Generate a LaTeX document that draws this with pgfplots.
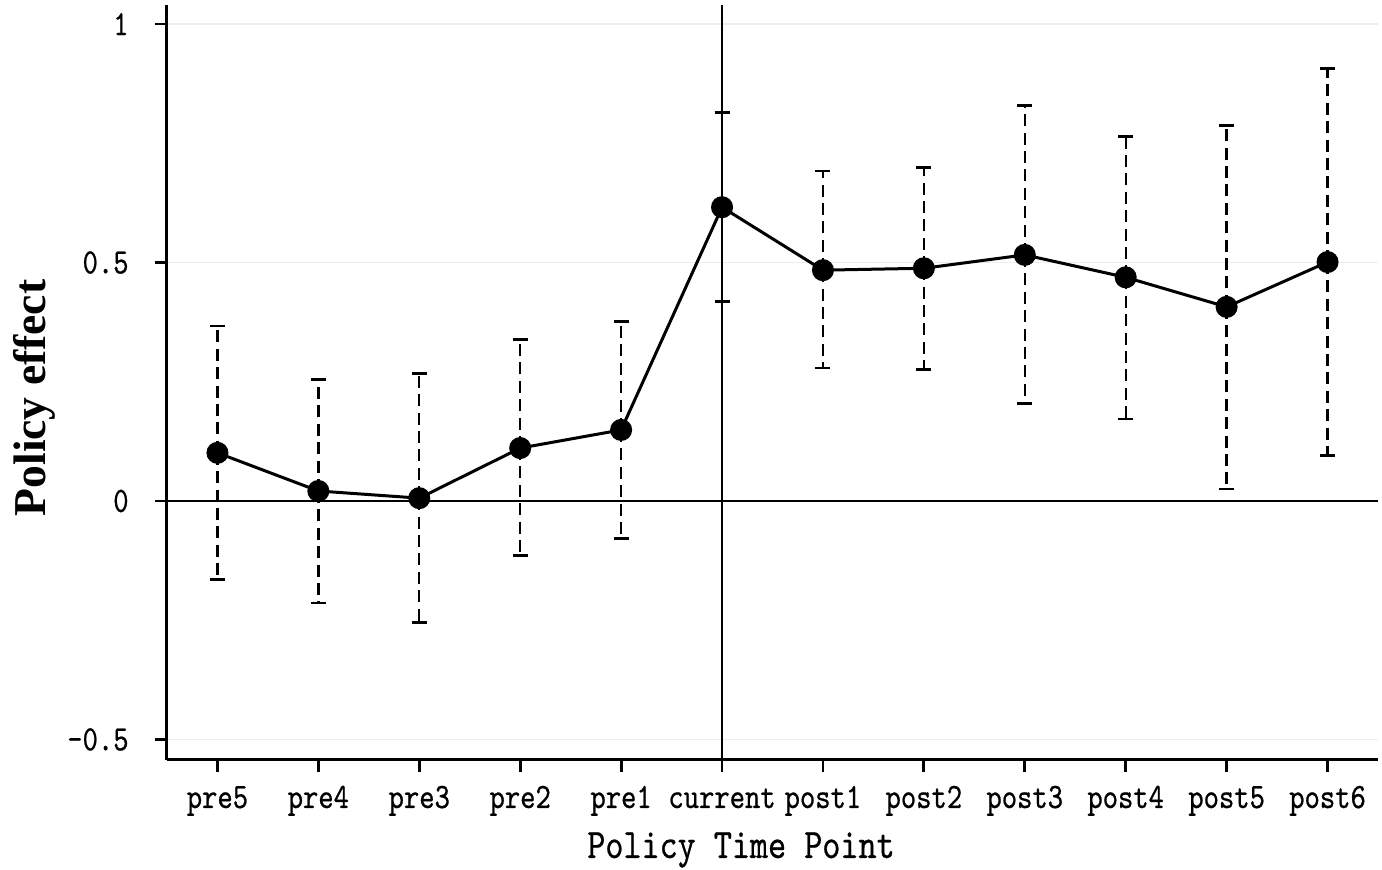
\documentclass[border=0pt]{standalone}
\usepackage{fontspec}
\usepackage{pgfplots}
\usepackage{pgfplotstable}
\pgfplotsset{compat=1.18}
\newfontfamily\simfont{lmmono10-regular.otf}[FakeStretch=0.82, FakeBold=0.6]
\newfontfamily\labfont{Liberation Serif}
\pgfplotstableread{
x y lo hi
0 0.101 -0.164 0.367
1 0.021 -0.214 0.254
2 0.006 -0.254 0.268
3 0.111 -0.115 0.338
4 0.149 -0.078 0.377
5 0.616 0.419 0.815
6 0.484 0.279 0.692
7 0.488 0.275 0.700
8 0.516 0.205 0.830
9 0.469 0.172 0.765
10 0.407 0.025 0.788
11 0.501 0.096 0.906
}\data
\begin{document}
\begin{tikzpicture}
\begin{axis}[
  scale only axis,
  width=605.5pt, height=377.5pt,
  xmin=-0.5, xmax=11.5, ymin=-0.543, ymax=1.04,
  axis x line*=bottom, axis y line*=left,
  axis line style={line width=1.5pt, black},
  clip=false,
  xtick={0,...,11},
  xticklabels={pre5,pre4,pre3,pre2,pre1,current,post1,post2,post3,post4,post5,post6},
  ytick={-0.5,0,0.5,1},
  yticklabels={–0.5,0,0.5,1},
  tick align=outside,
  major tick length=6pt,
  tick style={black, line width=1.4pt},
  ymajorgrids,
  grid style={black!7, line width=0.6pt},
  xticklabel style={font=\fontsize{17.8}{20}\simfont, anchor=base, inner sep=0pt, yshift=-18pt},
  yticklabel style={font=\fontsize{17.8}{20}\simfont, anchor=east, inner sep=0pt, xshift=-13pt},
  xlabel={Policy Time Point},
  xlabel style={font=\fontsize{21}{24}\simfont, at={(axis description cs:0.474,0)}, anchor=base, yshift=-49pt},
  ylabel={Policy effect},
  ylabel style={font=\fontsize{22.8}{26}\labfont\bfseries, at={(axis description cs:-0.1007,0.4795)}, rotate=0, anchor=base},
]
\draw[line width=1.4pt] (axis cs:-0.5,0) -- (axis cs:11.5,0);
\draw[line width=1.4pt] (axis cs:5,-0.543) -- (axis cs:5,1.04);
\addplot[no marks, draw=none, forget plot,
  error bars/.cd, y dir=both, y explicit,
  error bar style={draw=black, line width=1.15pt, dash pattern=on 6pt off 3.2pt},
  error mark options={draw=black, rotate=90, mark size=3.75pt, line width=1.4pt, solid}]
  table[x=x, y=y, y error plus expr=\thisrow{hi}-\thisrow{y}, y error minus expr=\thisrow{y}-\thisrow{lo}] {\data};
\addplot[black, line width=1.5pt, mark=*, mark size=4.75pt, mark options={solid, fill=black}]
  table[x=x, y=y] {\data};
\end{axis}
\pgfresetboundingbox
\path (-83.5pt,-55pt) rectangle (607.5pt,380pt);
\end{tikzpicture}
\end{document}
